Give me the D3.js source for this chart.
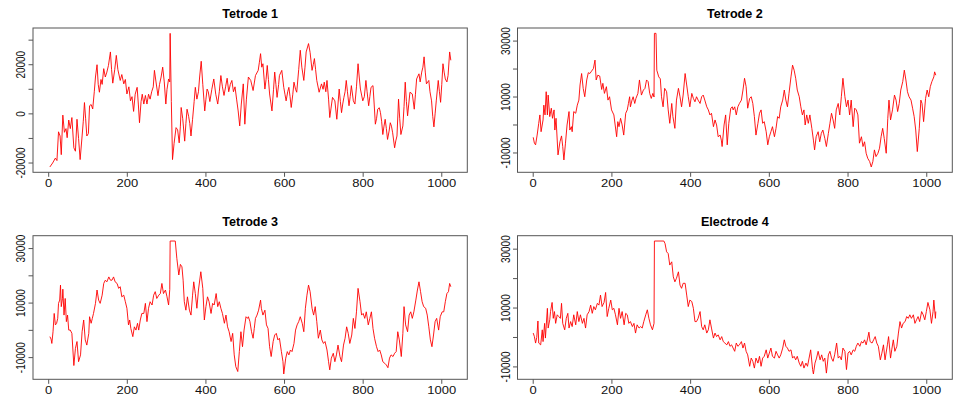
<!DOCTYPE html>
<html><head><meta charset="utf-8">
<script src="https://cdn.jsdelivr.net/npm/d3@7"></script>
<style>body{margin:0;background:#fff}svg{display:block}</style>
</head><body>
<svg id="c" width="969" height="415"></svg>
<script>
const titles = ["Tetrode 1", "Tetrode 2", "Tetrode 3", "Electrode 4"];
const xTicks = [0, 200, 400, 600, 800, 1000];
const yTicks1 = [-20000, -10000, 0, 10000, 20000, 30000];
const yLabels1 = [-20000, 0, 20000];
const yTicks234 = [-10000, 0, 10000, 20000, 30000];
const yLabels234 = [-10000, 10000, 30000];

const tetrode1 = [[3,-21600],[10,-20000],[17,-18000],[21,-19000],[25,-7300],[29,-9000],[32,-16600],[36,-500],[40,-7500],[44,-6000],[47,-9700],[51,-2500],[55,-6000],[59,-1500],[64,-13800],[68,-15200],[72,-2200],[76,-10000],[80,-18600],[85,-9000],[88,-3000],[91,4600],[94,-2000],[97,-9000],[101,-8000],[104,3300],[108,3800],[112,2000],[116,9000],[119,15000],[123,20000],[126,12000],[129,8800],[133,14000],[136,12000],[140,18400],[144,15000],[148,17000],[152,19700],[157,25200],[160,18000],[163,12500],[168,18000],[172,23800],[176,18000],[182,13600],[186,16000],[191,12200],[195,14000],[199,8100],[204,11000],[208,5300],[212,7000],[216,1000],[220,8000],[225,10800],[228,4000],[231,-3600],[235,5000],[238,8000],[242,4000],[246,7500],[250,4000],[254,8000],[258,6000],[262,9000],[266,11000],[269,17700],[273,13000],[278,7400],[282,12000],[286,15000],[290,19000],[294,13000],[298,4000],[301,10000],[305,14200],[308,13000],[309,32767],[312,5000],[315,-18600],[319,-12000],[324,-5600],[328,-6500],[332,-11800],[335,-5000],[337,2600],[341,-2000],[346,-11100],[349,-4000],[352,1900],[356,-1000],[359,-4000],[362,-9000],[366,-2200],[370,5000],[373,10800],[377,6000],[381,9000],[384,15000],[388,21400],[392,12000],[397,1200],[400,6000],[403,10100],[406,9000],[410,5000],[415,10000],[420,14200],[425,8000],[430,4000],[434,9000],[438,15600],[442,11000],[446,7500],[450,11000],[454,14500],[458,9000],[462,12000],[466,13600],[470,9000],[474,11000],[478,6000],[482,1200],[486,-4900],[490,4000],[495,12200],[499,-4200],[503,6000],[508,15000],[514,13600],[520,9500],[526,15600],[533,17700],[536,21000],[539,24500],[542,19000],[545,20400],[550,10100],[553,14000],[556,19700],[559,14000],[562,8100],[568,1200],[572,10000],[575,17000],[578,12000],[581,6700],[585,12000],[587,15600],[593,17700],[598,10800],[601,8000],[604,5300],[608,9000],[611,10800],[614,7000],[617,2600],[621,8000],[624,12900],[628,10000],[631,8800],[636,18000],[640,25900],[644,19000],[649,13600],[652,19000],[655,25200],[661,28600],[665,25000],[670,17700],[673,20000],[676,22500],[679,18000],[682,13600],[688,8800],[694,12200],[698,10000],[701,12900],[705,9000],[708,13600],[712,6000],[715,-1500],[718,2000],[722,6700],[728,5300],[733,-2200],[736,4000],[739,10100],[742,5000],[745,500],[748,4000],[751,6700],[754,9000],[757,13600],[760,9000],[764,3300],[767,7000],[770,11500],[775,5300],[779,4000],[783,11000],[787,20400],[790,15000],[793,10100],[799,5300],[803,7000],[807,13600],[810,9000],[814,3300],[817,7000],[820,10800],[825,11500],[828,4000],[831,-4200],[834,-2000],[837,1900],[841,2500],[844,500],[847,-3000],[850,-8400],[853,-5000],[856,-2200],[859,-6000],[862,-10400],[866,-7000],[869,-3600],[872,-5000],[875,-7700],[880,-13800],[883,-11000],[886,-9000],[890,6000],[893,-2000],[896,-8400],[901,-4900],[904,3000],[907,12900],[910,5000],[913,-800],[916,4000],[919,8800],[925,8100],[930,1900],[933,8000],[936,14200],[942,16300],[945,13000],[949,17000],[952,19000],[955,23200],[958,17000],[961,12200],[967,13600],[970,9000],[974,5300],[977,-1000],[980,-5300],[983,0],[986,5300],[991,13600],[994,9000],[997,4700],[1000,12000],[1003,20400],[1006,17000],[1009,14200],[1013,13000],[1016,15600],[1020,25200],[1023,21800]];

const tetrode2 = [[0,-4400],[3,-6500],[6,-7100],[10,-3600],[14,600],[17,3600],[20,-2400],[25,1800],[27,7100],[30,3600],[33,11900],[36,3600],[38,10700],[42,3000],[46,6000],[49,2400],[53,5400],[55,-1800],[58,2400],[63,-10700],[68,-6000],[72,-3900],[75,-7700],[78,-12500],[82,-6500],[86,0],[91,4800],[93,-1800],[97,-600],[99,-2400],[103,4800],[108,4200],[112,7100],[116,8900],[119,14300],[123,18400],[127,13100],[131,10100],[136,16100],[140,18700],[144,18400],[147,19000],[153,20200],[157,23200],[160,16100],[164,17800],[169,17500],[174,12700],[177,14900],[181,11300],[186,13700],[190,8900],[194,10100],[199,5400],[205,3600],[212,-4200],[215,1200],[218,-600],[222,2400],[226,0],[230,-3600],[235,4200],[239,5400],[242,7700],[245,10100],[247,6500],[251,8900],[254,10100],[258,7700],[261,9500],[266,11300],[270,16100],[275,10700],[280,12500],[284,13100],[288,16100],[292,15500],[296,11300],[300,9500],[304,11300],[307,10000],[308,32767],[312,32767],[314,19600],[319,17200],[323,16500],[326,10100],[330,6500],[334,13100],[339,11900],[343,5400],[347,600],[352,7700],[355,3000],[360,-1200],[364,8900],[369,13100],[373,10100],[377,6500],[381,10700],[386,18400],[390,14300],[394,10100],[398,6500],[403,11300],[407,9500],[411,8300],[415,10100],[419,8900],[424,7700],[428,10100],[432,10700],[436,8900],[441,6500],[445,5400],[449,3600],[453,4200],[458,-600],[462,1800],[466,0],[470,-4200],[475,-3600],[478,-5400],[480,-7700],[485,0],[489,3600],[493,-7100],[497,600],[502,6000],[506,6500],[508,5400],[512,6500],[516,3600],[520,6500],[524,7700],[529,8900],[533,12500],[537,16700],[541,13700],[545,6000],[550,9500],[554,10100],[558,7700],[562,3000],[566,-3600],[571,600],[575,4200],[579,5400],[583,600],[587,1200],[592,-2400],[596,-7100],[600,-4200],[604,-2400],[608,-600],[613,-4200],[617,-1200],[621,3000],[625,2400],[629,6500],[634,8900],[638,12500],[642,8900],[646,6500],[650,11300],[655,17200],[659,21400],[663,19600],[667,16700],[671,12500],[676,10100],[680,6500],[684,3600],[688,5400],[691,0],[695,3600],[699,600],[703,3600],[708,-1200],[712,-5400],[715,-8900],[719,-4200],[724,-2400],[728,-6000],[732,-3000],[736,-1800],[741,-4800],[745,-7700],[750,-3000],[754,600],[758,4200],[762,1800],[766,-1200],[770,5400],[775,7700],[779,3600],[783,10100],[787,16700],[792,10100],[796,6500],[800,8900],[804,3600],[808,8900],[813,-600],[817,6000],[821,5400],[825,3600],[829,-6500],[834,-4200],[838,-7700],[842,-6000],[846,-10100],[850,-11900],[855,-13100],[859,-15000],[863,-13100],[867,-8900],[871,-11300],[876,-10100],[880,-8300],[884,-4200],[888,-1200],[892,-4800],[897,-10100],[901,2400],[904,8900],[908,1800],[913,5400],[918,10700],[922,8900],[926,4800],[930,7700],[934,12500],[939,15500],[943,19600],[947,16100],[951,11900],[955,10100],[960,8900],[964,6000],[968,3000],[972,-1800],[976,-9500],[981,-1200],[985,8900],[988,7700],[992,1200],[997,9500],[1001,12500],[1005,10100],[1009,13700],[1013,15500],[1018,17200],[1020,19000],[1023,17800]];

const tetrode3 = [[3,-2300],[6,-3200],[8,-4800],[11,-500],[14,6200],[17,2000],[20,2500],[23,4400],[25,9900],[28,11100],[30,16600],[32,8700],[35,11700],[36,15100],[39,5600],[42,11700],[45,3200],[48,5600],[51,100],[55,100],[59,-1100],[64,-12900],[68,-6600],[72,-4100],[76,-11500],[81,-9000],[85,-500],[89,3800],[93,-3500],[97,-5400],[102,-1100],[104,5000],[108,2600],[111,4400],[114,6200],[119,9900],[123,14800],[127,11100],[131,9900],[136,12900],[140,17200],[144,18400],[148,17800],[153,19600],[157,18400],[161,18400],[165,19600],[169,17800],[174,17200],[178,15400],[182,16000],[186,12300],[191,12900],[195,10500],[199,8100],[203,2000],[206,3800],[209,700],[214,-2300],[218,1300],[222,100],[226,2600],[229,100],[233,3800],[237,6200],[242,6200],[246,9900],[250,3200],[254,8100],[258,10500],[263,9300],[267,12900],[271,14200],[275,11700],[280,12900],[284,13500],[288,17200],[292,13500],[297,14800],[301,12300],[305,9300],[308,15000],[309,32767],[322,32767],[326,26400],[331,20300],[335,24200],[339,23300],[342,18400],[345,10500],[349,7400],[353,12300],[358,7400],[362,5600],[366,12900],[369,17800],[373,13500],[377,8100],[381,14800],[387,21500],[392,15400],[396,3800],[400,8700],[404,12300],[408,10500],[413,6200],[417,9900],[421,9300],[426,13500],[430,8700],[434,10500],[438,8100],[442,6200],[447,2600],[451,5600],[455,1300],[459,-500],[464,-4100],[468,-1100],[472,-9000],[476,-13300],[481,-15100],[485,-7800],[489,-500],[493,-6000],[497,100],[502,5000],[506,4400],[508,5000],[512,3200],[516,-500],[520,-2900],[523,700],[526,4400],[530,5600],[534,7400],[539,11100],[541,8100],[545,5600],[550,7400],[554,2000],[558,700],[562,-6000],[566,-9600],[571,-4100],[575,-1700],[579,-1100],[583,-3500],[587,-2900],[592,-7800],[596,-11500],[598,-16000],[603,-10200],[607,-7800],[611,-9000],[615,-7200],[619,-7800],[624,-4800],[628,100],[632,2000],[636,3200],[640,5000],[645,2600],[649,-500],[653,8100],[657,12900],[661,16600],[665,14200],[670,8100],[674,5600],[678,8700],[682,3200],[686,-2900],[691,100],[695,-3500],[699,-4800],[703,-4100],[708,-7200],[712,-11500],[715,-14500],[719,-10200],[724,-8400],[728,-11500],[732,-9000],[736,-5400],[741,-9600],[745,-11500],[750,-5400],[754,-2900],[758,1300],[762,-1100],[766,-4800],[771,-1700],[775,4400],[779,700],[783,6800],[787,15400],[792,10500],[796,5600],[800,6200],[804,4400],[808,6800],[813,2000],[817,4400],[821,6800],[825,700],[829,-2900],[834,-6000],[838,-7800],[842,-7200],[846,-9000],[850,-11500],[855,-12100],[859,-12700],[863,-13700],[867,-10200],[871,-9000],[876,-9600],[880,-8400],[884,-7800],[888,-500],[892,-3500],[897,-9600],[901,-1100],[904,8700],[908,2000],[913,-500],[917,5600],[921,6800],[925,4400],[929,6800],[934,11100],[938,14800],[942,17800],[946,14200],[950,10500],[954,8700],[959,8100],[963,5600],[967,1300],[971,-3500],[975,-6000],[979,-1700],[983,3200],[987,4400],[992,100],[996,5000],[1001,6800],[1005,6800],[1009,10500],[1013,13500],[1017,14200],[1020,17200],[1023,16000]];

const electrode4 = [[0,1500],[3,300],[6,-1900],[9,0],[12,5600],[14,-1900],[19,-2500],[23,2600],[25,-1400],[29,4800],[31,-200],[36,9900],[38,3200],[42,6000],[44,8800],[48,11900],[51,6500],[54,8800],[57,4800],[61,7700],[65,7100],[69,6500],[72,11600],[75,4800],[80,2600],[84,6500],[88,8200],[91,3200],[95,5400],[99,3700],[103,7700],[108,4300],[112,8800],[116,5400],[120,7700],[125,4800],[129,6500],[133,3200],[137,7700],[142,8800],[146,11000],[150,8200],[154,10500],[158,9400],[163,11600],[167,11000],[171,14400],[175,10500],[180,11900],[184,15300],[188,7100],[192,9900],[197,12700],[201,9400],[205,9900],[209,7700],[214,4300],[218,9900],[222,6500],[226,8800],[231,4300],[235,8200],[239,7700],[243,4800],[247,5400],[252,3700],[256,4800],[260,1500],[264,4300],[269,3200],[273,3700],[277,3200],[281,5400],[286,7700],[290,9400],[294,6500],[298,4300],[303,2600],[307,4800],[308,32767],[332,32767],[335,31900],[339,29100],[343,28500],[347,24600],[352,25700],[356,20600],[360,18900],[364,20100],[369,22300],[373,17800],[377,16700],[381,18400],[386,18400],[390,14400],[394,10500],[398,12700],[403,12200],[407,9900],[411,5400],[415,5400],[419,6500],[424,8800],[428,3700],[432,2600],[436,4300],[441,1500],[445,2600],[449,6000],[453,3200],[458,-200],[462,1500],[466,300],[470,900],[475,-800],[479,300],[483,-1400],[487,-1900],[492,-2500],[496,-1400],[500,-3000],[504,-2500],[508,-3600],[512,-4700],[516,-1900],[520,-3000],[524,-2500],[529,-1400],[533,-3600],[537,-1900],[541,-4700],[545,-5900],[550,-9800],[554,-7000],[558,-8100],[562,-10400],[566,-7000],[571,-8700],[575,-6400],[579,-9800],[583,-7000],[587,-6400],[592,-4200],[596,-7000],[600,-5300],[604,-3600],[608,-6400],[613,-7000],[617,-4700],[621,-5900],[625,-7000],[629,-5900],[634,-3600],[638,-800],[642,-3000],[646,-3600],[650,-4700],[655,-4200],[659,-7000],[663,-6400],[667,-7600],[671,-6400],[676,-8700],[680,-9800],[684,-8100],[688,-10400],[693,-8700],[697,-9800],[701,-7000],[705,-4200],[710,-10900],[712,-12400],[716,-8700],[720,-7000],[724,-4700],[729,-7600],[733,-5900],[737,-8100],[741,-7000],[745,-12100],[750,-5900],[754,-4700],[758,-7000],[762,-8100],[766,-5900],[771,-1900],[775,-7000],[779,-6400],[783,-7600],[787,-3600],[792,-4700],[796,-10900],[800,-5300],[804,-4700],[808,-5900],[813,-4200],[817,-4700],[821,-3000],[825,-1900],[830,-3000],[834,-1400],[838,-1900],[842,-800],[846,-2500],[850,-200],[853,1800],[856,-1400],[861,-1900],[865,-800],[869,300],[873,-1900],[877,-3000],[882,-7600],[886,-5300],[890,-2500],[894,-7600],[900,-2500],[903,300],[908,-7000],[911,-4200],[915,-800],[919,-4700],[924,-3000],[928,1500],[932,5400],[936,3200],[940,4800],[945,5400],[949,7100],[953,6500],[957,7700],[961,6500],[966,7700],[970,4800],[974,6000],[978,7100],[982,5400],[987,8800],[991,7700],[995,6000],[999,8800],[1003,11900],[1008,9400],[1012,4800],[1016,8800],[1018,12700],[1022,6500],[1023,8800]];

const series = [tetrode1, tetrode2, tetrode3, electrode4];

// layout (plot regions)
const boxes = [
  {x0: 33,    x1: 467.3, y0: 28,    y1: 172.3},
  {x0: 517.5, x1: 952.3, y0: 28,    y1: 172.3},
  {x0: 33,    x1: 467.3, y0: 235.7, y1: 379.3},
  {x0: 517.5, x1: 952.3, y0: 235.7, y1: 379.3}
];
const yTickSets = [yTicks1, yTicks234, yTicks234, yTicks234];
const yLabelSets = [yLabels1, yLabels234, yLabels234, yLabels234];

const svg = d3.select("#c");
const FONT = "'Liberation Sans', Arial, Helvetica, sans-serif";
const SX = 1.3;

series.forEach((data, k) => {
  const b = boxes[k];
  const xr = 1024 - 1;
  const x = d3.scaleLinear().domain([1 - 0.04 * xr, 1024 + 0.04 * xr]).range([b.x0, b.x1]);
  const [mn, mx] = d3.extent(data, d => d[1]);
  const r = mx - mn;
  const y = d3.scaleLinear().domain([mn - 0.04 * r, mx + 0.04 * r]).range([b.y1, b.y0]);
  const g = svg.append("g");

  // data line
  g.append("path")
    .datum(data)
    .attr("fill", "none")
    .attr("stroke", "#ff0000")
    .attr("stroke-width", 0.9)
    .attr("stroke-linejoin", "round")
    .attr("d", d3.line().x(d => x(d[0])).y(d => y(d[1])));

  // box
  g.append("rect")
    .attr("x", b.x0).attr("y", b.y0)
    .attr("width", b.x1 - b.x0).attr("height", b.y1 - b.y0)
    .attr("fill", "none").attr("stroke", "#555").attr("stroke-width", 1);

  // x ticks
  xTicks.forEach(t => {
    const px = x(t);
    g.append("line").attr("x1", px).attr("x2", px)
      .attr("y1", b.y1).attr("y2", b.y1 + 4.5)
      .attr("stroke", "#555").attr("stroke-width", 1);
    g.append("text")
      .attr("transform", `translate(${px},${b.y1 + 14.5}) scale(${SX},1)`)
      .attr("text-anchor", "middle")
      .attr("font-family", FONT).attr("font-size", 10).attr("fill", "#111")
      .text(t);
  });

  // y ticks
  yTickSets[k].forEach(t => {
    const py = y(t);
    g.append("line").attr("x1", b.x0 - 4.5).attr("x2", b.x0)
      .attr("y1", py).attr("y2", py)
      .attr("stroke", "#555").attr("stroke-width", 1);
  });
  yLabelSets[k].forEach(t => {
    const py = y(t);
    g.append("text")
      .attr("transform", `translate(${b.x0 - 8},${py}) scale(${SX},1) rotate(-90)`)
      .attr("text-anchor", "middle")
      .attr("font-family", FONT).attr("font-size", 10).attr("fill", "#111")
      .text(t);
  });

  // title
  g.append("text")
    .attr("transform", `translate(${(b.x0 + b.x1) / 2},${b.y0 - 10}) scale(1.05,1)`)
    .attr("text-anchor", "middle")
    .attr("font-family", FONT).attr("font-size", 12).attr("font-weight", "bold")
    .attr("fill", "#000")
    .text(titles[k]);
});
</script>
</body></html>
